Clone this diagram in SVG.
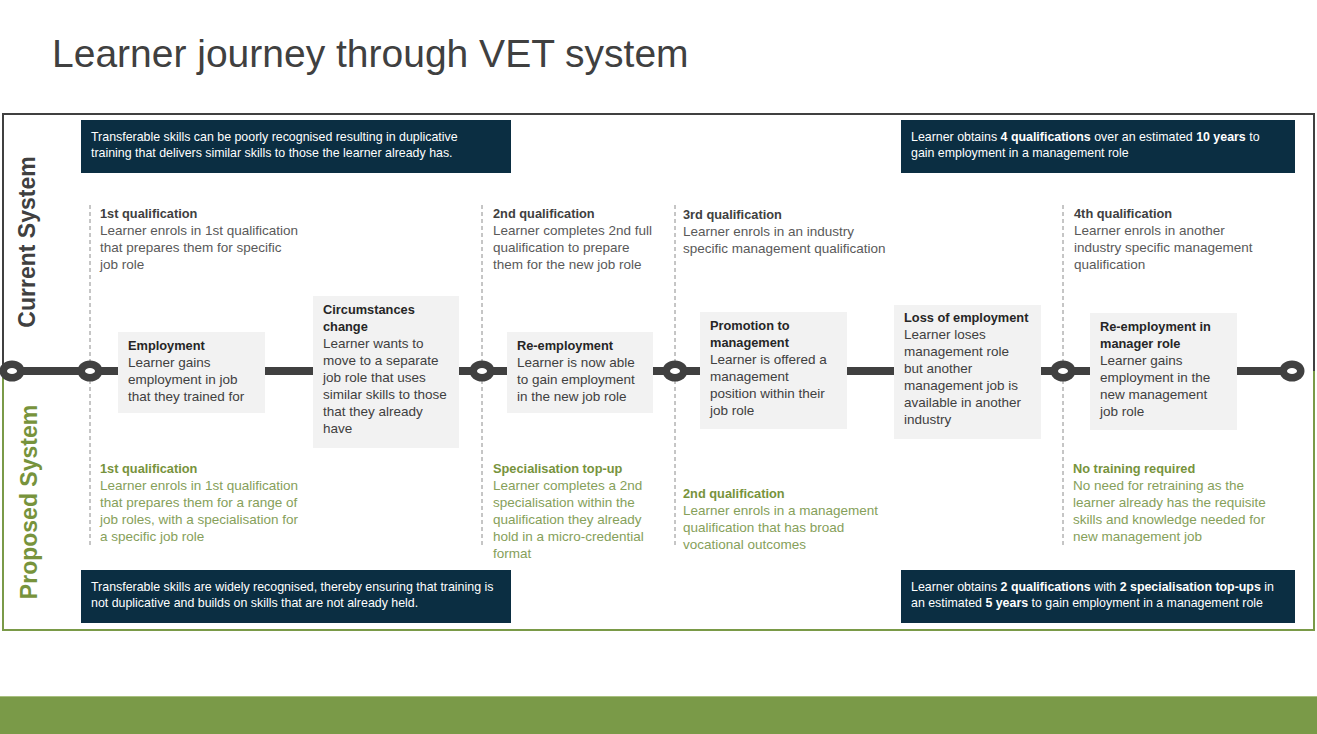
<svg xmlns="http://www.w3.org/2000/svg" width="1317" height="734" viewBox="0 0 1317 734">
<style>
  .title{font-family:"Liberation Sans",Arial,sans-serif;font-size:39px;fill:#404040}
  .side{font-family:"Liberation Sans",Arial,sans-serif;font-size:23px;font-weight:bold}
  .dk{fill:#0b2e42}
  .dkt{font-family:"Liberation Sans",Arial,sans-serif;font-size:12.4px;fill:#ffffff}
  .b{font-weight:bold}
  .box{fill:#f2f2f2}
  .bh{font-family:"Liberation Sans",Arial,sans-serif;font-size:12.8px;font-weight:bold;fill:#262626}
  .bt{font-family:"Liberation Sans",Arial,sans-serif;font-size:13.5px;fill:#404040}
  .qh{font-family:"Liberation Sans",Arial,sans-serif;font-size:12.8px;font-weight:bold;fill:#404040}
  .qt{font-family:"Liberation Sans",Arial,sans-serif;font-size:13.5px;fill:#595959}
  .gh{font-family:"Liberation Sans",Arial,sans-serif;font-size:12.8px;font-weight:bold;fill:#77933c}
  .gt{font-family:"Liberation Sans",Arial,sans-serif;font-size:13.5px;fill:#86a05a}
  .dash{stroke:#8c8c8c;stroke-width:1;stroke-dasharray:4,3;fill:none}
</style>
<defs>
  <g id="stop">
    <ellipse cx="0" cy="0" rx="12.5" ry="10.5" fill="#404040"/>
    <ellipse cx="0" cy="0" rx="5" ry="3" fill="#ffffff"/>
  </g>
</defs>
<rect x="0" y="0" width="1317" height="734" fill="#ffffff"/>
<text class="title" x="52" y="67">Learner journey through VET system</text>

<!-- frames -->
<g id="frames" fill="none">
  <path d="M3,371 V114 H1314 V371" stroke="#404040" stroke-width="2"/>
  <path d="M3,371 V630 H1314 V371" stroke="#7a9a48" stroke-width="2"/>
</g>
<text class="side" fill="#404040" transform="translate(35,242) rotate(-90)" text-anchor="middle">Current System</text>
<text class="side" fill="#77933c" transform="translate(37,502) rotate(-90)" text-anchor="middle">Proposed System</text>

<!-- connectors -->
<g id="connectors">
  <line x1="12" y1="371" x2="1292" y2="371" stroke="#404040" stroke-width="8"/>
  <line class="dash" x1="90" y1="205" x2="90" y2="546"/>
  <line class="dash" x1="482" y1="205" x2="482" y2="546"/>
  <line class="dash" x1="675" y1="205" x2="675" y2="546"/>
  <line class="dash" x1="1063" y1="205" x2="1063" y2="546"/>
</g>

<g id="stops">
  <use href="#stop" x="12" y="371"/>
  <use href="#stop" x="90" y="371"/>
  <use href="#stop" x="482" y="371"/>
  <use href="#stop" x="675" y="371"/>
  <use href="#stop" x="1063" y="371"/>
  <use href="#stop" x="1292" y="371"/>
</g>

<!-- dark summary boxes -->
<g id="note-current-left">
  <rect class="dk" x="81" y="120" width="430" height="53"/>
  <text class="dkt" x="91" y="141">Transferable skills can be poorly recognised resulting in duplicative</text>
  <text class="dkt" x="91" y="157">training that delivers similar skills to those the learner already has.</text>
</g>
<g id="note-current-right">
  <rect class="dk" x="901" y="120" width="394" height="53"/>
  <text class="dkt" x="911" y="141">Learner obtains <tspan class="b">4 qualifications</tspan> over an estimated <tspan class="b">10 years</tspan> to</text>
  <text class="dkt" x="911" y="157">gain employment in a management role</text>
</g>
<g id="note-proposed-left">
  <rect class="dk" x="81" y="570" width="430" height="53"/>
  <text class="dkt" x="91" y="591">Transferable skills are widely recognised, thereby ensuring that training is</text>
  <text class="dkt" x="91" y="607">not duplicative and builds on skills that are not already held.</text>
</g>
<g id="note-proposed-right">
  <rect class="dk" x="901" y="570" width="394" height="53"/>
  <text class="dkt" x="911" y="591">Learner obtains <tspan class="b">2 qualifications</tspan> with <tspan class="b">2 specialisation top-ups</tspan> in</text>
  <text class="dkt" x="911" y="607">an estimated <tspan class="b">5 years</tspan> to gain employment in a management role</text>
</g>

<!-- current system qualification notes -->
<g id="cur-q1">
  <text class="qh" x="100" y="218">1st qualification</text>
  <text class="qt" x="100" y="235">Learner enrols in 1st qualification</text>
  <text class="qt" x="100" y="252">that prepares them for specific</text>
  <text class="qt" x="100" y="269">job role</text>
</g>
<g id="cur-q2">
  <text class="qh" x="493" y="218">2nd qualification</text>
  <text class="qt" x="493" y="235">Learner completes 2nd full</text>
  <text class="qt" x="493" y="252">qualification to prepare</text>
  <text class="qt" x="493" y="269">them for the new job role</text>
</g>
<g id="cur-q3">
  <text class="qh" x="683" y="219">3rd qualification</text>
  <text class="qt" x="683" y="236">Learner enrols in an industry</text>
  <text class="qt" x="683" y="253">specific management qualification</text>
</g>
<g id="cur-q4">
  <text class="qh" x="1074" y="218">4th qualification</text>
  <text class="qt" x="1074" y="235">Learner enrols in another</text>
  <text class="qt" x="1074" y="252">industry specific management</text>
  <text class="qt" x="1074" y="269">qualification</text>
</g>

<!-- event boxes -->
<g id="employment">
  <rect class="box" x="118" y="332" width="147" height="81"/>
  <text class="bh" x="128" y="350">Employment</text>
  <text class="bt" x="128" y="367">Learner gains</text>
  <text class="bt" x="128" y="384">employment in job</text>
  <text class="bt" x="128" y="401">that they trained for</text>
</g>
<g id="circumstances">
  <rect class="box" x="313" y="296" width="146" height="152"/>
  <text class="bh" x="323" y="314">Circumstances</text>
  <text class="bh" x="323" y="331">change</text>
  <text class="bt" x="323" y="348">Learner wants to</text>
  <text class="bt" x="323" y="365">move to a separate</text>
  <text class="bt" x="323" y="382">job role that uses</text>
  <text class="bt" x="323" y="399">similar skills to those</text>
  <text class="bt" x="323" y="416">that they already</text>
  <text class="bt" x="323" y="433">have</text>
</g>
<g id="reemployment">
  <rect class="box" x="507" y="332" width="146" height="81"/>
  <text class="bh" x="517" y="350">Re-employment</text>
  <text class="bt" x="517" y="367">Learner is now able</text>
  <text class="bt" x="517" y="384">to gain employment</text>
  <text class="bt" x="517" y="401">in the new job role</text>
</g>
<g id="promotion">
  <rect class="box" x="700" y="312" width="147" height="117"/>
  <text class="bh" x="710" y="330">Promotion to</text>
  <text class="bh" x="710" y="347">management</text>
  <text class="bt" x="710" y="364">Learner is offered a</text>
  <text class="bt" x="710" y="381">management</text>
  <text class="bt" x="710" y="398">position within their</text>
  <text class="bt" x="710" y="415">job role</text>
</g>
<g id="loss">
  <rect class="box" x="894" y="305" width="147" height="134"/>
  <text class="bh" x="904" y="322">Loss of employment</text>
  <text class="bt" x="904" y="339">Learner loses</text>
  <text class="bt" x="904" y="356">management role</text>
  <text class="bt" x="904" y="373">but another</text>
  <text class="bt" x="904" y="390">management job is</text>
  <text class="bt" x="904" y="407">available in another</text>
  <text class="bt" x="904" y="424">industry</text>
</g>
<g id="reemployment-manager">
  <rect class="box" x="1090" y="313" width="147" height="117"/>
  <text class="bh" x="1100" y="331">Re-employment in</text>
  <text class="bh" x="1100" y="348">manager role</text>
  <text class="bt" x="1100" y="365">Learner gains</text>
  <text class="bt" x="1100" y="382">employment in the</text>
  <text class="bt" x="1100" y="399">new management</text>
  <text class="bt" x="1100" y="416">job role</text>
</g>

<!-- proposed system notes -->
<g id="prop-q1">
  <text class="gh" x="100" y="473">1st qualification</text>
  <text class="gt" x="100" y="490">Learner enrols in 1st qualification</text>
  <text class="gt" x="100" y="507">that prepares them for a range of</text>
  <text class="gt" x="100" y="524">job roles, with a specialisation for</text>
  <text class="gt" x="100" y="541">a specific job role</text>
</g>
<g id="prop-topup">
  <text class="gh" x="493" y="473">Specialisation top-up</text>
  <text class="gt" x="493" y="490">Learner completes a 2nd</text>
  <text class="gt" x="493" y="507">specialisation within the</text>
  <text class="gt" x="493" y="524">qualification they already</text>
  <text class="gt" x="493" y="541">hold in a micro-credential</text>
  <text class="gt" x="493" y="558">format</text>
</g>
<g id="prop-q2">
  <text class="gh" x="683" y="498">2nd qualification</text>
  <text class="gt" x="683" y="515">Learner enrols in a management</text>
  <text class="gt" x="683" y="532">qualification that has broad</text>
  <text class="gt" x="683" y="549">vocational outcomes</text>
</g>
<g id="prop-none">
  <text class="gh" x="1073" y="473">No training required</text>
  <text class="gt" x="1073" y="490">No need for retraining as the</text>
  <text class="gt" x="1073" y="507">learner already has the requisite</text>
  <text class="gt" x="1073" y="524">skills and knowledge needed for</text>
  <text class="gt" x="1073" y="541">new management job</text>
</g>

<rect x="0" y="696" width="1317" height="38" fill="#7a9a48"/>
<line x1="0" y1="696.5" x2="1317" y2="696.5" stroke="#a9c080" stroke-width="1"/>
</svg>
